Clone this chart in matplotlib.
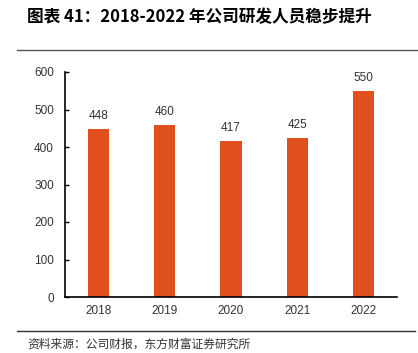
import matplotlib
matplotlib.use("Agg")
import matplotlib.pyplot as plt
from matplotlib.lines import Line2D

plt.rcParams["font.family"] = ["Noto Sans CJK SC", "DejaVu Sans"]

years = ["2018", "2019", "2020", "2021", "2022"]
staff = [448, 460, 417, 425, 550]
title = "图表 41：2018-2022 年公司研发人员稳步提升"
source = "资料来源：公司财报，东方财富证券研究所"

fig = plt.figure(figsize=(4.18, 3.53), dpi=100)
ax = fig.add_axes([65 / 418, 1 - 297 / 353, 332 / 418, 225 / 353])

x = range(len(years))
bars = ax.bar(x, staff, width=0.32, color="#E0501F")
for xi, v in zip(x, staff):
    ax.text(xi, v + 18, str(v), ha="center", va="bottom", fontsize=8.5,
            color="#333333", family=["Liberation Sans", "DejaVu Sans"])

ax.set_xlim(-0.5, len(years) - 0.5)
ax.set_ylim(0, 600)
ax.set_yticks(range(0, 601, 100))
ax.set_xticks(list(x))
ax.set_xticklabels(years)
for lbl in ax.get_xticklabels() + ax.get_yticklabels():
    lbl.set_family(["Liberation Sans", "DejaVu Sans"])
    lbl.set_fontsize(8.5)
    lbl.set_color("#333333")
ax.tick_params(axis="y", direction="in", length=3, width=1, pad=8)
ax.tick_params(axis="x", length=0, pad=6)
ax.spines["top"].set_visible(False)
ax.spines["right"].set_visible(False)
ax.spines["left"].set_linewidth(1.2)
ax.spines["bottom"].set_linewidth(1.2)

fig.text(27 / 418, 1 - 17 / 353, title, fontsize=12, fontweight="bold",
         va="center", ha="left")
fig.add_artist(Line2D([17 / 418, 1], [1 - 50 / 353] * 2, color="#555555", lw=1))
fig.add_artist(Line2D([17 / 418, 415 / 418], [1 - 331 / 353] * 2, color="#333333", lw=1))
fig.text(27 / 418, 1 - 344 / 353, source, fontsize=8.5, va="center", ha="left",
         color="#333333")

fig.savefig("out.png", dpi=100)
